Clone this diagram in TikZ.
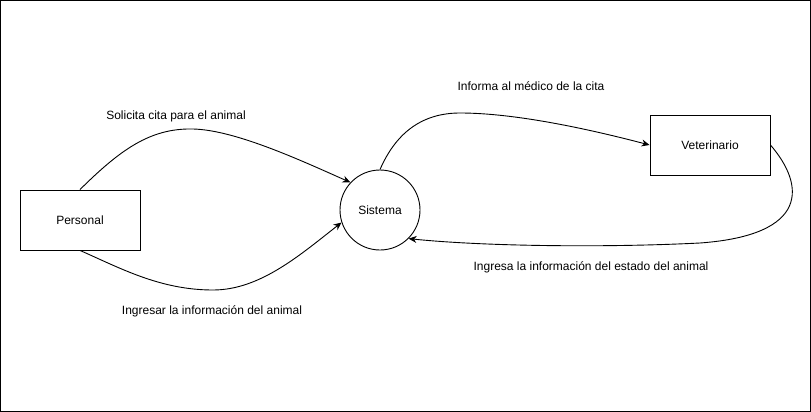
\documentclass[tikz,border=0pt]{standalone}
\usepackage{fontspec}
\setmainfont{Liberation Sans}
\usetikzlibrary{arrows.meta}

\begin{document}
\begin{tikzpicture}[x=1pt, y=-1pt, line width=0.9pt, font=\fontsize{12}{14}\selectfont,
	entidad/.style={draw, rectangle, minimum width=120pt, minimum height=60pt, inner sep=0pt},
	proceso/.style={draw, circle, minimum size=80pt, inner sep=0pt},
	flujo/.style={-{Stealth[length=8pt,width=7pt]}}]
	\useasboundingbox (0,0) rectangle (811,412);
	\draw (0.5,0.5) rectangle (810.5,411.5);
	\node[entidad] (personal) at (80,220) {Personal};
	\node[proceso] (sistema) at (380,210) {Sistema};
	\node[entidad] (veterinario) at (710,145) {Veterinario};
	\node (solicita) at (176,116) {Solicita cita para el animal};
	\node (ingresar) at (212,311) {Ingresar la información del animal};
	\node (informa) at (531,86) {Informa al médico de la cita};
	\node (estado) at (591,267) {Ingresa la información del estado del animal};
	\draw[flujo] (personal.north) .. controls (120,150) and (150,128) .. (193,129)
	  .. controls (235,130) and (300,160) .. (sistema.137);
	\draw[flujo] (personal.south) .. controls (120,268) and (160,290) .. (213,290)
	  .. controls (260,290) and (300,255) .. (sistema.198);
	\draw[flujo] (sistema.north) .. controls (395,135) and (420,113) .. (460,113)
	  .. controls (520,113) and (600,132) .. (veterinario.west);
	\draw[flujo] (veterinario.east) .. controls (805,185) and (810,235) .. (700,243)
	  .. controls (600,248) and (480,246) .. (sistema.-45);
\end{tikzpicture}
\end{document}
